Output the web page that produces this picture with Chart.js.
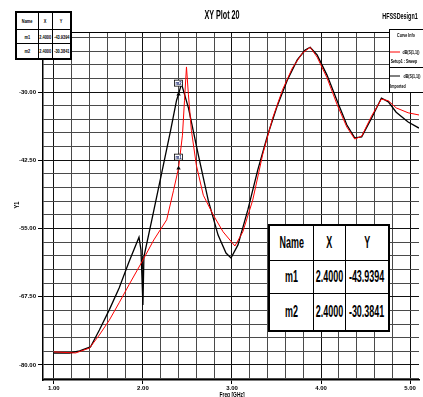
<!DOCTYPE html>
<html>
<head>
<meta charset="utf-8">
<script src="https://cdn.jsdelivr.net/npm/chart.js@4.4.1/dist/chart.umd.min.js"></script>
<style>
  html, body { margin: 0; padding: 0; background: #fff; }
  #wrap { position: relative; width: 423px; height: 397px; overflow: hidden; }
  #plot { position: absolute; left: 0; top: 0; }
  .tbl { position: absolute; background: #fff; border: 2px solid #000; box-sizing: content-box; }
  .cell { position: absolute; display: flex; align-items: center; justify-content: center;
          box-sizing: border-box; overflow: visible; white-space: nowrap;
          font-family: "Liberation Sans", Arial, sans-serif; color: #000; }
  .cell span { display: inline-block; }
</style>
</head>
<body>
<div id="wrap">
  <canvas id="plot" width="423" height="397"></canvas>
  <div id="markTable" class="tbl"></div>
  <div id="markTableSmall" class="tbl"></div>
</div>
<script>
// Frequency sweep (GHz) and return loss (dB) for the imported trace (black)
const freqBlack = [1.00, 1.178, 1.289, 1.411, 1.511, 1.622, 1.733, 1.844, 1.956, 1.978, 2.000, 2.011,
  2.100, 2.211, 2.311, 2.378, 2.400, 2.433, 2.511, 2.622, 2.733, 2.844, 2.933, 2.989, 3.067, 3.178,
  3.289, 3.400, 3.511, 3.622, 3.733, 3.822, 3.878, 3.956, 4.067, 4.178, 4.289, 4.378, 4.456, 4.567,
  4.678, 4.756, 4.844, 4.978, 5.10];
const dbBlack = [-77.8, -77.8, -77.4, -76.7, -73.6, -69.9, -65.9, -61.1, -56.6, -58.9, -69.0, -60.2,
  -53.4, -44.8, -37.0, -31.5, -30.3841, -28.5, -32.9, -41.5, -49.8, -56.2, -59.5, -60.4, -58.0, -51.6,
  -44.3, -37.9, -32.4, -27.8, -24.1, -22.3, -21.8, -23.2, -26.9, -31.5, -36.0, -38.4, -38.2, -34.8,
  -31.1, -31.8, -33.7, -35.5, -36.6];

// Setup1 : Sweep trace (red)
const freqRed = [1.00, 1.244, 1.40, 1.511, 1.622, 1.733, 1.844, 1.989, 2.122, 2.267, 2.344, 2.400,
  2.444, 2.467, 2.489, 2.511, 2.544, 2.600, 2.678, 2.789, 2.900, 3.033, 3.122, 3.233, 3.344, 3.456,
  3.567, 3.678, 3.789, 3.878, 3.956, 4.067, 4.178, 4.289, 4.378, 4.456, 4.567, 4.678, 4.756, 4.844,
  4.978, 5.10];
const dbRed = [-77.6, -77.8, -76.9, -74.5, -71.8, -68.6, -65.3, -61.1, -57.1, -53.4, -48.0, -43.9394,
  -37.9, -31.5, -25.4, -30.5, -37.0, -43.4, -48.9, -52.5, -55.6, -58.2, -55.6, -49.8, -41.5, -34.8,
  -29.6, -25.6, -22.9, -21.8, -23.6, -27.4, -32.2, -36.4, -38.6, -38.1, -34.4, -31.3, -31.6, -32.9,
  -33.8, -34.2];

// Markers
const markerNames = ['m1', 'm2'];
const markerFreq = [2.4000, 2.4000];
const markerDb = [-43.9394, -30.3841];

// Labelled axis ticks
const xTickLabels = [1, 2, 3, 4, 5];
const yTickLabels = [-80, -67.5, -55, -42.5, -30];

const toPts = (xs, ys) => xs.map((v, i) => ({ x: v, y: ys[i] }));
const near = (a, list) => list.some(v => Math.abs(v - a) < 1e-6);

// grid lines: 0.2 GHz and 2.5 dB
const xGrid = []; for (let i = 0; i <= 20; i++) xGrid.push(+(1 + i * 0.2).toFixed(2));
const yGrid = []; for (let i = 0; i <= 25; i++) yGrid.push(-82.5 + i * 2.5);

function txt(ctx, t, x, y, font, sx, color, rot) {
  ctx.save();
  ctx.translate(x, y);
  if (rot) ctx.rotate(rot);
  ctx.scale(sx, 1);
  ctx.font = font;
  ctx.fillStyle = color;
  ctx.textAlign = 'center';
  ctx.textBaseline = 'middle';
  ctx.fillText(t, 0, 0);
  ctx.restore();
}

const decor = {
  id: 'decor',
  afterDraw(chart) {
    const { ctx, chartArea: a } = chart;
    ctx.save();
    // top frame line
    ctx.strokeStyle = '#000';
    ctx.lineWidth = 1;
    ctx.beginPath();
    ctx.moveTo(a.left, a.top + 0.5);
    ctx.lineTo(a.right, a.top + 0.5);
    ctx.stroke();

    // titles
    txt(ctx, 'XY Plot 20', 222, 16, 'bold 12px "Liberation Sans"', 0.6, '#000');
    txt(ctx, 'HFSSDesign1', 400, 17, 'bold 9px "Liberation Sans"', 0.6, '#000');
    txt(ctx, 'Y1', 17, 205, 'bold 7px "Liberation Sans"', 0.8, '#000', -Math.PI / 2);
    txt(ctx, 'Freq [GHz]', 232, 395, 'bold 7px "Liberation Sans"', 0.7, '#000');

    // curve info box
    ctx.fillStyle = '#fff';
    ctx.fillRect(389, 29, 40, 64);
    ctx.strokeStyle = '#000';
    ctx.lineWidth = 1;
    ctx.strokeRect(389.5, 29.5, 40, 63);
    ctx.beginPath(); ctx.moveTo(389, 67.5); ctx.lineTo(423, 67.5); ctx.stroke();
    txt(ctx, 'Curve Info', 406, 35, 'bold 6px "Liberation Sans"', 0.6, '#000');
    ctx.strokeStyle = '#f00'; ctx.lineWidth = 1;
    ctx.beginPath(); ctx.moveTo(390, 52); ctx.lineTo(400, 52); ctx.stroke();
    txt(ctx, 'dB(S(1,1))', 411, 52, 'bold 6px "Liberation Sans"', 0.6, '#000');
    txt(ctx, 'Setup1 : Sweep', 404, 61, 'bold 6px "Liberation Sans"', 0.6, '#000');
    ctx.strokeStyle = '#000';
    ctx.beginPath(); ctx.moveTo(390, 76); ctx.lineTo(400, 76); ctx.stroke();
    txt(ctx, 'dB(S(1,1))', 412, 76, 'bold 6px "Liberation Sans"', 0.6, '#000');
    txt(ctx, 'Imported', 398, 86, 'bold 6px "Liberation Sans"', 0.6, '#000');

    // marker tags
    const meta = chart.getDatasetMeta(0);
    meta.data.forEach((pt, i) => {
      const lx = pt.x, ly = pt.y - 11;
      ctx.fillStyle = '#fff';
      ctx.fillRect(lx - 4, ly - 3, 8, 6);
      ctx.strokeStyle = '#000';
      ctx.lineWidth = 0.8;
      ctx.strokeRect(lx - 4, ly - 3, 8, 6);
      txt(ctx, markerNames[i], lx, ly, 'bold 6px "Liberation Sans"', 0.7, '#001060');
    });
    ctx.restore();
  }
};

const gridColor = (major) => (c) => near(c.tick.value, major) ? '#111' : '#4a4a4a';
const tickColor = (major) => (c) => near(c.tick.value, major) ? '#000' : 'rgba(0,0,0,0)';

new Chart(document.getElementById('plot'), {
  type: 'line',
  data: {
    datasets: [
      {
        label: 'markers',
        data: toPts(markerFreq, markerDb),
        showLine: false,
        pointStyle: 'triangle',
        pointRadius: 2.5,
        pointBackgroundColor: '#000',
        pointBorderColor: '#000',
        borderWidth: 0,
        order: 0
      },
      {
        label: 'dB(S(1,1)) Setup1 : Sweep',
        data: toPts(freqRed, dbRed),
        borderColor: '#ff0000',
        borderWidth: 1,
        pointRadius: 0,
        tension: 0,
        fill: false,
        order: 1
      },
      {
        label: 'dB(S(1,1)) Imported',
        data: toPts(freqBlack, dbBlack),
        borderColor: '#000000',
        borderWidth: 1.3,
        pointRadius: 0,
        tension: 0,
        fill: false,
        order: 2
      }
    ]
  },
  options: {
    responsive: false,
    devicePixelRatio: 1,
    animation: false,
    layout: { padding: { top: 32, left: 0, right: 0, bottom: 0 } },
    plugins: { legend: { display: false }, tooltip: { enabled: false }, title: { display: false } },
    scales: {
      x: {
        type: 'linear',
        min: 0.878,
        max: 5.1,
        afterFit: (s) => { s.height = 17; },
        afterBuildTicks: (s) => { s.ticks = xGrid.map(v => ({ value: v })); },
        border: { display: true, color: '#000', width: 1.5 },
        grid: { color: gridColor(xTickLabels), lineWidth: 1, tickLength: 4, tickColor: tickColor(xTickLabels) },
        ticks: {
          autoSkip: false, maxRotation: 0, padding: 1, color: '#000',
          font: { family: 'Liberation Sans', size: 6, weight: 'bold' },
          callback: (v) => near(v, xTickLabels) ? v.toFixed(2) : ''
        }
      },
      y: {
        type: 'linear',
        min: -82.75,
        max: -19.0,
        afterFit: (s) => { s.width = 43; },
        afterBuildTicks: (s) => { s.ticks = yGrid.map(v => ({ value: v })); },
        border: { display: true, color: '#000', width: 1.5 },
        grid: { color: gridColor(yTickLabels), lineWidth: 1, tickLength: 5, tickColor: tickColor(yTickLabels) },
        ticks: {
          autoSkip: false, padding: 2, color: '#000',
          font: { family: 'Liberation Sans', size: 6, weight: 'bold' },
          callback: (v) => near(v, yTickLabels) ? v.toFixed(2) : ''
        }
      }
    }
  },
  plugins: [decor]
});

// marker tables
function buildTable(el, left, top, colW, rowH, fontPx, sx, weight) {
  const rows = [['Name', 'X', 'Y']].concat(markerNames.map((n, i) =>
    [n, markerFreq[i].toFixed(4), markerDb[i].toFixed(4)]));
  el.style.left = left + 'px';
  el.style.top = top + 'px';
  el.style.width = colW.reduce((s, v) => s + v, 0) + 'px';
  el.style.height = rowH.reduce((s, v) => s + v, 0) + 'px';
  let y = 0;
  rows.forEach((r, ri) => {
    let x = 0;
    r.forEach((t, ci) => {
      const c = document.createElement('div');
      c.className = 'cell';
      c.style.left = x + 'px';
      c.style.top = y + 'px';
      c.style.width = colW[ci] + 'px';
      c.style.height = rowH[ri] + 'px';
      if (ci > 0) c.style.borderLeft = '1px solid #000';
      if (ri > 0) c.style.borderTop = '1px solid #000';
      c.style.fontSize = fontPx + 'px';
      c.style.fontWeight = weight;
      const s = document.createElement('span');
      s.textContent = t;
      s.style.transform = 'scaleX(' + sx + ')';
      c.appendChild(s);
      el.appendChild(c);
      x += colW[ci];
    });
    y += rowH[ri];
  });
}
buildTable(document.getElementById('markTable'), 268, 224, [43, 32, 43], [34, 33, 37], 16, 0.56, 'bold');
buildTable(document.getElementById('markTableSmall'), 15, 11, [21, 14, 18], [16, 14, 15], 6, 0.65, 'bold');
</script>
</body>
</html>
